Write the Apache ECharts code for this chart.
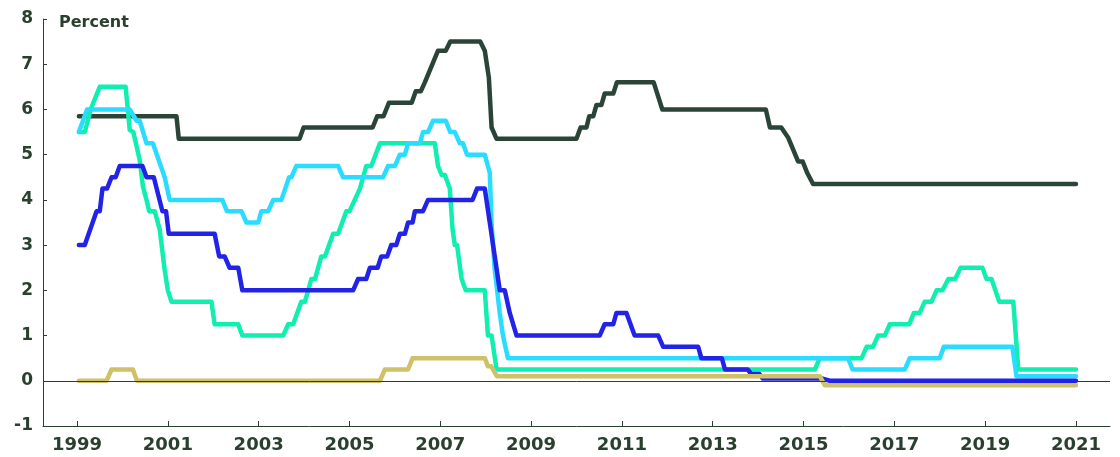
<!DOCTYPE html>
<html>
<head>
<meta charset="utf-8">
<script src="https://cdn.jsdelivr.net/npm/echarts@6/dist/echarts.min.js"></script>
<style>
html,body{margin:0;padding:0;background:#fff;}
#chart{width:1120px;height:457px;}
</style>
</head>
<body>
<div id="chart"></div>
<script>
// Tick labels
const xTicks = [1999, 2001, 2003, 2005, 2007, 2009, 2011, 2013, 2015, 2017, 2019, 2021];
const yTitle = 'Percent';

// Series values: [year, percent] at each level change
const darkSeries = [[1999.04,5.85],[2001.19,5.85],[2001.24,5.35],[2003.9,5.35],[2003.99,5.6],[2005.51,5.6],[2005.61,5.85],[2005.75,5.85],[2005.87,6.15],[2006.37,6.15],[2006.46,6.4],[2006.57,6.4],[2006.66,6.6],[2006.95,7.3],[2007.12,7.3],[2007.22,7.5],[2007.88,7.5],[2007.98,7.3],[2008.07,6.7],[2008.13,5.6],[2008.24,5.35],[2010.0,5.35],[2010.09,5.6],[2010.22,5.6],[2010.28,5.85],[2010.37,5.85],[2010.44,6.1],[2010.55,6.1],[2010.62,6.35],[2010.81,6.35],[2010.89,6.6],[2011.7,6.6],[2011.89,6.0],[2014.17,6.0],[2014.26,5.6],[2014.51,5.6],[2014.66,5.38],[2014.88,4.85],[2014.98,4.85],[2015.08,4.6],[2015.21,4.35],[2021.0,4.35]];

const greenSeries = [[1999.04,5.5],[1999.17,5.5],[1999.3,6.0],[1999.5,6.5],[2000.07,6.5],[2000.16,5.55],[2000.24,5.5],[2000.38,4.88],[2000.45,4.3],[2000.53,4.0],[2000.59,3.75],[2000.71,3.75],[2000.82,3.35],[2000.93,2.45],[2001.0,2.0],[2001.08,1.75],[2001.96,1.75],[2002.03,1.25],[2002.55,1.25],[2002.64,1.0],[2003.54,1.0],[2003.65,1.25],[2003.76,1.25],[2003.94,1.75],[2004.02,1.75],[2004.16,2.25],[2004.24,2.25],[2004.38,2.75],[2004.46,2.75],[2004.64,3.25],[2004.75,3.25],[2004.93,3.75],[2005.0,3.75],[2005.23,4.25],[2005.37,4.75],[2005.48,4.75],[2005.67,5.25],[2006.88,5.25],[2006.95,4.75],[2007.03,4.55],[2007.1,4.55],[2007.21,4.25],[2007.27,3.35],[2007.32,3.0],[2007.37,3.0],[2007.47,2.25],[2007.56,2.0],[2007.98,2.0],[2008.05,1.0],[2008.13,1.0],[2008.24,0.25],[2015.25,0.25],[2015.36,0.5],[2016.28,0.5],[2016.39,0.75],[2016.53,0.75],[2016.64,1.0],[2016.79,1.0],[2016.9,1.25],[2017.33,1.25],[2017.43,1.5],[2017.56,1.5],[2017.67,1.75],[2017.82,1.75],[2017.93,2.0],[2018.06,2.0],[2018.19,2.25],[2018.34,2.25],[2018.46,2.5],[2018.94,2.5],[2019.03,2.25],[2019.14,2.25],[2019.31,1.75],[2019.62,1.75],[2019.73,0.25],[2021.0,0.25]];

const cyanSeries = [[1999.04,5.5],[1999.22,6.0],[2000.16,6.0],[2000.31,5.75],[2000.38,5.75],[2000.53,5.25],[2000.67,5.25],[2000.93,4.5],[2001.04,4.0],[2002.2,4.0],[2002.3,3.75],[2002.62,3.75],[2002.73,3.5],[2002.99,3.5],[2003.06,3.75],[2003.21,3.75],[2003.32,4.0],[2003.5,4.0],[2003.67,4.5],[2003.72,4.5],[2003.83,4.75],[2004.75,4.75],[2004.86,4.5],[2005.74,4.5],[2005.85,4.75],[2006.0,4.75],[2006.11,5.0],[2006.22,5.0],[2006.29,5.25],[2006.55,5.25],[2006.62,5.5],[2006.73,5.5],[2006.84,5.75],[2007.12,5.75],[2007.22,5.5],[2007.32,5.5],[2007.43,5.25],[2007.5,5.25],[2007.59,5.0],[2007.98,5.0],[2008.09,4.6],[2008.13,3.45],[2008.2,2.45],[2008.31,1.5],[2008.38,1.0],[2008.49,0.5],[2015.98,0.5],[2016.08,0.25],[2017.23,0.25],[2017.34,0.5],[2018.0,0.5],[2018.09,0.75],[2019.6,0.75],[2019.69,0.1],[2021.0,0.1]];

const blueSeries = [[1999.04,3.0],[1999.17,3.0],[1999.43,3.75],[1999.5,3.75],[1999.56,4.25],[1999.66,4.25],[1999.76,4.5],[1999.85,4.5],[1999.94,4.75],[2000.44,4.75],[2000.53,4.5],[2000.69,4.5],[2000.88,3.75],[2000.96,3.75],[2001.02,3.25],[2002.03,3.25],[2002.13,2.75],[2002.25,2.75],[2002.36,2.5],[2002.55,2.5],[2002.64,2.0],[2005.08,2.0],[2005.19,2.25],[2005.37,2.25],[2005.45,2.5],[2005.62,2.5],[2005.7,2.75],[2005.83,2.75],[2005.92,3.0],[2006.03,3.0],[2006.11,3.25],[2006.22,3.25],[2006.29,3.5],[2006.39,3.5],[2006.44,3.75],[2006.62,3.75],[2006.73,4.0],[2007.71,4.0],[2007.81,4.25],[2007.98,4.25],[2008.31,2.0],[2008.42,2.0],[2008.53,1.5],[2008.68,1.0],[2010.51,1.0],[2010.62,1.25],[2010.81,1.25],[2010.88,1.5],[2011.1,1.5],[2011.28,1.0],[2011.8,1.0],[2011.91,0.75],[2012.68,0.75],[2012.75,0.5],[2013.2,0.5],[2013.27,0.25],[2013.77,0.25],[2013.85,0.15],[2014.03,0.15],[2014.1,0.05],[2015.4,0.05],[2015.58,0.0],[2021.0,0.0]];

const goldSeries = [[1999.04,0.0],[1999.65,0.0],[1999.76,0.25],[2000.23,0.25],[2000.32,0.0],[2005.67,0.0],[2005.78,0.25],[2006.29,0.25],[2006.39,0.5],[2007.98,0.5],[2008.05,0.32],[2008.12,0.32],[2008.25,0.1],[2015.36,0.1],[2015.47,-0.1],[2021.0,-0.1]];

const TEXT = '#29402f';
const FONT = '"DejaVu Sans", sans-serif';

function line(name, data, color, extra) {
  return Object.assign({
    name: name, type: 'line', data: data, showSymbol: false, symbol: 'none',
    lineStyle: {color: color, width: 4.5, cap: 'round', join: 'round'},
    itemStyle: {color: color}, animation: false, silent: true
  }, extra || {});
}

const chart = echarts.init(document.getElementById('chart'), null, {renderer: 'canvas'});
chart.setOption({
  animation: false,
  textStyle: {fontFamily: FONT},
  title: {
    text: yTitle, left: 54, top: 10,
    textStyle: {fontFamily: FONT, fontSize: 16, fontWeight: 'bold', color: TEXT}
  },
  grid: {left: 43, right: 10, top: 19, bottom: 31, containLabel: false},
  xAxis: {
    type: 'value', min: 1998.25, max: 2021.75,
    axisLine: {show: true, onZero: false, lineStyle: {color: TEXT, width: 1}},
    axisTick: {show: true, inside: true, length: 5, customValues: xTicks, lineStyle: {color: TEXT}},
    axisLabel: {customValues: xTicks, margin: 10, color: TEXT, fontFamily: FONT, fontSize: 18, fontWeight: 'bold',
      formatter: v => String(v)},
    splitLine: {show: false}
  },
  yAxis: {
    type: 'value', min: -1, max: 8, interval: 1,
    axisLine: {show: true, lineStyle: {color: TEXT, width: 1}},
    axisTick: {show: true, inside: true, length: 4, lineStyle: {color: TEXT}},
    axisLabel: {margin: 10, color: TEXT, fontFamily: FONT, fontSize: 17, fontWeight: 'bold'},
    splitLine: {show: false}
  },
  series: [
    line('dark', darkSeries, '#2a4538', {
      markLine: {silent: true, symbol: 'none', label: {show: false}, animation: false,
        lineStyle: {color: TEXT, width: 1, type: 'solid'}, data: [{yAxis: 0}]}
    }),
    line('green', greenSeries, '#10eeb0'),
    line('cyan', cyanSeries, '#2adcff'),
    line('blue', blueSeries, '#2323e8'),
    line('gold', goldSeries, '#cfc06a')
  ]
});
</script>
</body>
</html>
